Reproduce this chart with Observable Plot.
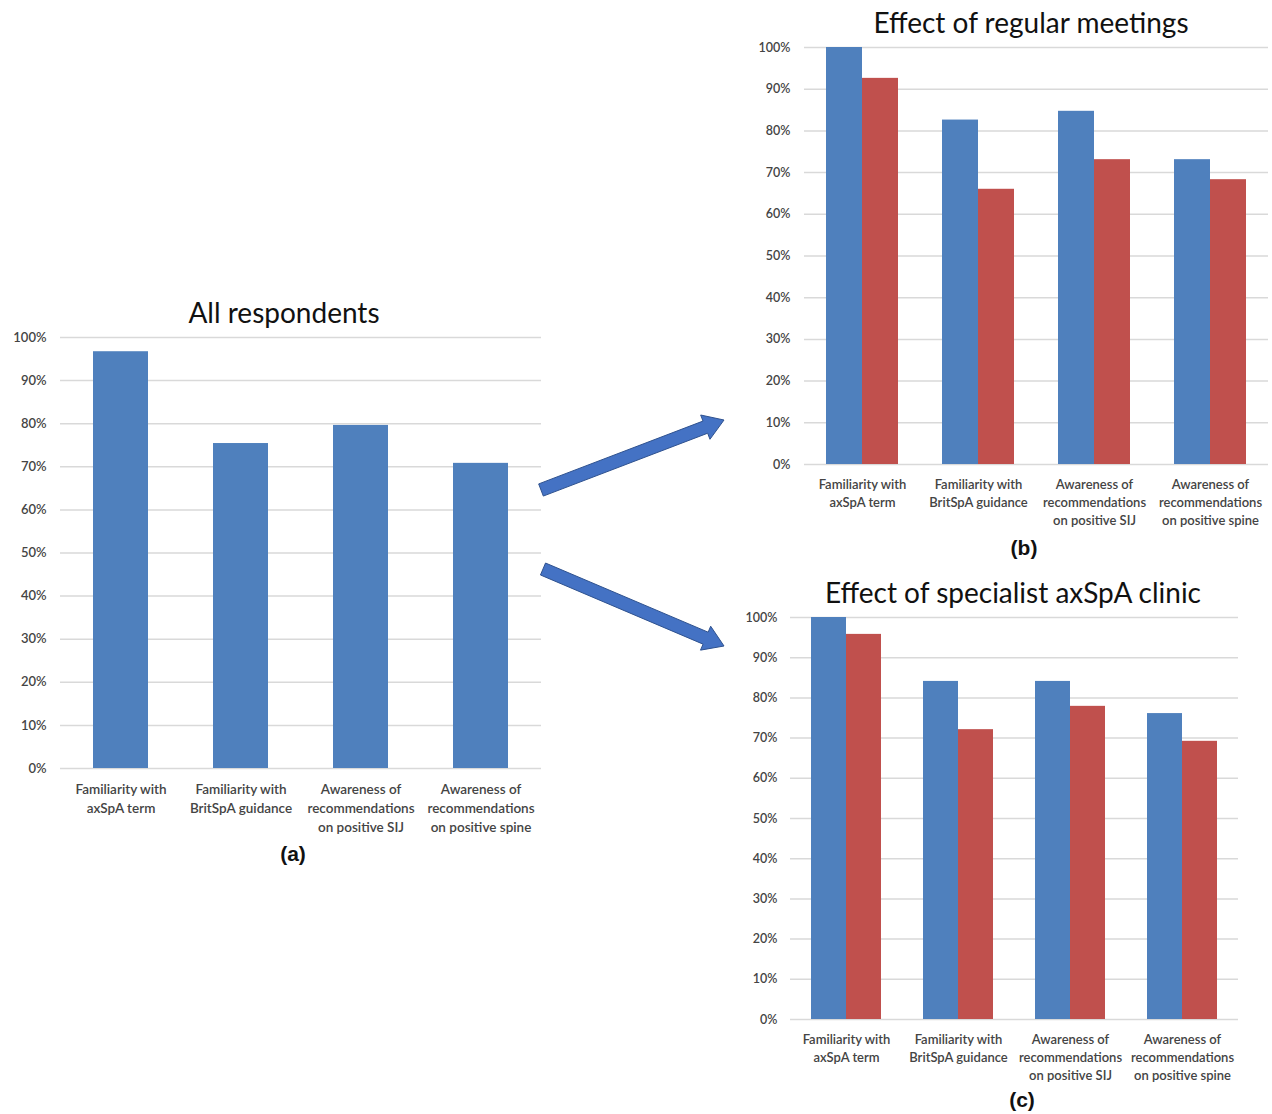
<!DOCTYPE html>
<html>
<head>
<meta charset="utf-8">
<script src="https://cdn.jsdelivr.net/npm/d3@7"></script>
<script src="https://cdn.jsdelivr.net/npm/@observablehq/plot@0.6"></script>
<style>
  html, body { margin: 0; padding: 0; background: #fff; }
  #page { position: relative; width: 1272px; height: 1114px; overflow: hidden; font-family: Lato, "Open Sans", sans-serif; }
  .panel { position: absolute; }
  .title { position: absolute; transform: translate(-50%, -50%); white-space: nowrap; font-family: Lato, "Open Sans", sans-serif; font-size: 28px; color: #111; }
  .cap { position: absolute; transform: translate(-50%, -50%); font-family: "Liberation Sans", Arial, sans-serif; font-weight: bold; font-size: 21px; color: #111; }
  #arrows { position: absolute; left: 0; top: 0; }
</style>
</head>
<body>
<div id="page">
  <div class="title" style="left:284px; top:312px;">All respondents</div>
  <div class="title" style="left:1031px; top:22px;">Effect of regular meetings</div>
  <div class="title" style="left:1013px; top:592px;">Effect of specialist axSpA clinic</div>
  <div class="cap" style="left:293px; top:854px;">(a)</div>
  <div class="cap" style="left:1024px; top:548px;">(b)</div>
  <div class="cap" style="left:1022px; top:1100px;">(c)</div>
  <div id="pa" class="panel" style="left:0px; top:327px;"></div>
  <div id="pb" class="panel" style="left:730px; top:37px;"></div>
  <div id="pc" class="panel" style="left:720px; top:607px;"></div>
</div>
<script>
// ---- data ----
const categories = [
  "Familiarity with axSpA term",
  "Familiarity with BritSpA guidance",
  "Awareness of recommendations on positive SIJ",
  "Awareness of recommendations on positive spine"
];
const categoryLabels = [
  "Familiarity with\naxSpA term",
  "Familiarity with\nBritSpA guidance",
  "Awareness of\nrecommendations\non positive SIJ",
  "Awareness of\nrecommendations\non positive spine"
];
const series = ["Yes", "No"];
const seriesColors = ["#4f80bd", "#c0504d"];
const allRespondents = [0.967, 0.754, 0.796, 0.708];
const meetingsYes = [1.00, 0.826, 0.847, 0.731];
const meetingsNo  = [0.926, 0.660, 0.731, 0.683];
const clinicYes   = [1.00, 0.841, 0.841, 0.761];
const clinicNo    = [0.958, 0.721, 0.779, 0.692];
const yTicks = [0, 0.1, 0.2, 0.3, 0.4, 0.5, 0.6, 0.7, 0.8, 0.9, 1.0];

const labelOf = new Map(categories.map((c, i) => [c, categoryLabels[i]]));
const pct = d3.format(".0%");
const gridColor = "#d9d9d9";
const textColor = "#444444";
const style = {fontFamily: "Lato, 'Open Sans', sans-serif", fontSize: "12px", color: textColor, background: "transparent"};

// ---- panel (a) ----
const aData = categories.map((c, i) => ({category: c, value: allRespondents[i]}));
document.getElementById("pa").append(Plot.plot({
  width: 545, height: 520,
  marginTop: 10, marginLeft: 60, marginRight: 4, marginBottom: 79,
  style,
  x: {domain: categories, paddingInner: 0.54, paddingOuter: 0.27, axis: null},
  y: {domain: [0, 1], label: null},
  marks: [
    Plot.ruleY(yTicks, {stroke: gridColor, strokeWidth: 1.5}),
    Plot.axisY({ticks: yTicks, tickFormat: pct, tickSize: 0, tickPadding: 14, fontSize: 13, fontWeight: 600, fill: textColor, label: null}),
    Plot.barY(aData, {x: "category", y: "value", fill: seriesColors[0]}),
    Plot.text(categories, {x: d => d, text: d => labelOf.get(d), frameAnchor: "bottom", lineAnchor: "top", dy: 12, fontSize: 13.5, fontWeight: 600, lineHeight: 1.42, fill: textColor})
  ]
}));

// ---- grouped panels ----
function grouped(el, yes, no, opts) {
  const data = [];
  categories.forEach((c, i) => {
    data.push({category: c, series: series[0], value: yes[i]});
    data.push({category: c, series: series[1], value: no[i]});
  });
  document.getElementById(el).append(Plot.plot({
    width: opts.width, height: opts.height,
    marginTop: 10, marginLeft: opts.marginLeft, marginRight: opts.marginRight, marginBottom: opts.marginBottom,
    style,
    fx: {domain: categories, padding: 0, axis: null, label: null},
    x: {domain: series, paddingInner: 0, paddingOuter: 0.6, axis: null, label: null},
    y: {domain: [0, 1], label: null},
    color: {domain: series, range: seriesColors},
    marks: [
      Plot.ruleY(yTicks, {stroke: gridColor, strokeWidth: 1.5}),
      Plot.axisY({ticks: yTicks, tickFormat: pct, tickSize: 0, tickPadding: opts.tickPadding, fontSize: 12.5, fontWeight: 600, fill: textColor, label: null}),
      Plot.barY(data, {fx: "category", x: "series", y: "value", fill: "series"}),
      Plot.text(categories, {fx: d => d, text: d => labelOf.get(d), frameAnchor: "bottom", lineAnchor: "top", dy: 12, fontSize: 13, fontWeight: 600, lineHeight: 1.38, fill: textColor})
    ]
  }));
}
grouped("pb", meetingsYes, meetingsNo, {width: 542, height: 500, marginLeft: 73, marginRight: 3, marginBottom: 73, tickPadding: 14});
grouped("pc", clinicYes, clinicNo, {width: 520, height: 482, marginLeft: 70, marginRight: 2, marginBottom: 70, tickPadding: 13});

// ---- decorative arrows ----
const arrowSvg = d3.select("#page").append("svg").attr("id", "arrows").attr("width", 1272).attr("height", 1114);
function arrowPath(x0, y0, x1, y1) {
  const dx = x1 - x0, dy = y1 - y0, L = Math.hypot(dx, dy);
  const ux = dx / L, uy = dy / L, nx = -uy, ny = ux;
  const sw = 6.5, hw = 13, hl = 20;
  const bx = x1 - ux * hl, by = y1 - uy * hl;
  const pts = [
    [x0 + nx * sw, y0 + ny * sw], [bx + nx * sw, by + ny * sw], [bx + nx * hw, by + ny * hw],
    [x1, y1],
    [bx - nx * hw, by - ny * hw], [bx - nx * sw, by - ny * sw], [x0 - nx * sw, y0 - ny * sw]
  ];
  return "M" + pts.map(p => p.join(",")).join("L") + "Z";
}
arrowSvg.append("path").attr("d", arrowPath(541, 490, 724, 420)).attr("fill", "#4472c4").attr("stroke", "#2f528f").attr("stroke-width", 1);
arrowSvg.append("path").attr("d", arrowPath(543, 569, 724, 646)).attr("fill", "#4472c4").attr("stroke", "#2f528f").attr("stroke-width", 1);
</script>
</body>
</html>
